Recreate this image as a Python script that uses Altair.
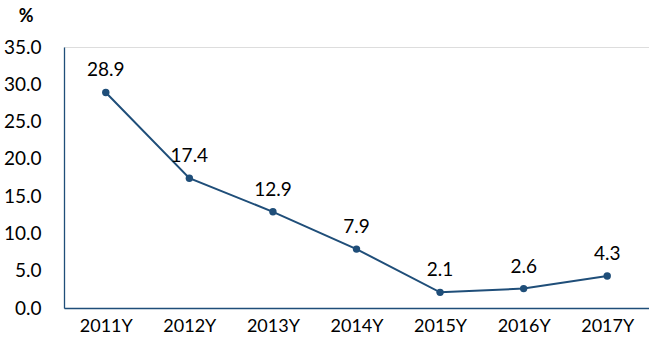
import altair as alt
import pandas as pd

years = ["2011Y", "2012Y", "2013Y", "2014Y", "2015Y", "2016Y", "2017Y"]
values = [28.9, 17.4, 12.9, 7.9, 2.1, 2.6, 4.3]
y_ticks = [0, 5, 10, 15, 20, 25, 30, 35]

df = pd.DataFrame({"year": years, "value": values})
color = "#1F4E79"
font = "Lato"

x = alt.X("year:N", sort=years, title=None,
          scale=alt.Scale(paddingInner=0, paddingOuter=0.5),
          axis=alt.Axis(labelAngle=0, ticks=False, domainColor=color, domainWidth=1.3,
                        labelFont=font, labelFontSize=18, labelColor="#000000",
                        labelPadding=9))
y = alt.Y("value:Q", title=None,
          scale=alt.Scale(domain=[0, 35], nice=False),
          axis=alt.Axis(values=y_ticks, format=".1f", ticks=False, grid=False,
                        domainColor=color, domainWidth=1.3,
                        labelFont=font, labelFontSize=19, labelColor="#000000",
                        labelPadding=23))

base = alt.Chart(df).encode(x=x, y=y)
line = base.mark_line(color=color, strokeWidth=2)
pts = base.mark_point(filled=True, color=color, size=55, opacity=1)
labels = base.mark_text(dy=-22, font=font, fontSize=19, color="#000000").encode(
    text=alt.Text("value:Q", format=".1f"))
pct = alt.Chart(pd.DataFrame({"t": ["%"]})).mark_text(
    font=font, fontSize=18, fontWeight="bold", color="#000000", align="center", baseline="middle"
).encode(text="t:N", x=alt.value(-38), y=alt.value(-30))

chart = (line + pts + labels + pct).properties(
    width=585, height=261,
    autosize=alt.AutoSizeParams(type="none"),
    padding={"left": 64, "top": 47, "right": 0, "bottom": 46},
).configure_view(stroke=None).configure(background="white")

chart.save("out.html", embed_options={"renderer": "svg", "actions": False})
